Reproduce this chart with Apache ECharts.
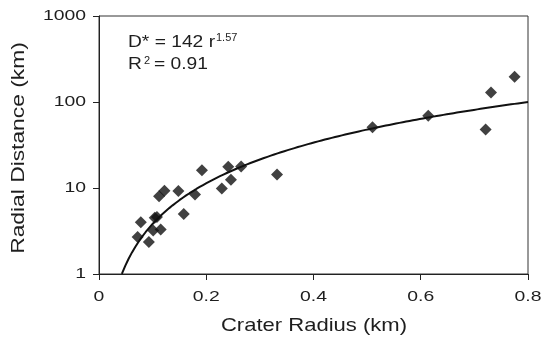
<!DOCTYPE html>
<html>
<head>
<meta charset="utf-8">
<script src="https://cdn.jsdelivr.net/npm/echarts@6/dist/echarts.min.js"></script>
<style>
  html, body { margin: 0; padding: 0; background: #fff; }
  #chart { width: 541px; height: 342px; }
</style>
</head>
<body>
<div id="chart"></div>
<script>
// crater radius (km) and radial distance (km)
var craterRadius = [0.072, 0.078, 0.093, 0.101, 0.104, 0.108, 0.115, 0.112, 0.122,
                    0.148, 0.158, 0.179, 0.192, 0.229, 0.241, 0.246, 0.265, 0.332,
                    0.510, 0.614, 0.721, 0.731, 0.775];
var radialDistance = [2.7, 4.0, 2.35, 3.2, 4.5, 4.6, 3.3, 8.0, 9.3,
                      9.2, 5.0, 8.4, 16.1, 9.9, 17.7, 12.5, 17.8, 14.4,
                      51, 69, 48, 129, 196];

// power-law fit printed on the chart: D* = 142 r^1.57
var fitCoef = 142;
var fitExp = 1.57;
var fitRange = [0.0426, 0.8];

var xTicks = ['0', '0.2', '0.4', '0.6', '0.8'];
var yTicks = ['1', '10', '100', '1000'];

var FONT = "'Liberation Sans', Arial, sans-serif";
var INK = '#111';
var TXT = '#1e1e1e';

var points = [];
for (var i = 0; i < craterRadius.length; i++) {
    points.push([craterRadius[i], radialDistance[i]]);
}

var fitLine = [];
var steps = 120;
for (var k = 0; k <= steps; k++) {
    var r = fitRange[0] + (fitRange[1] - fitRange[0]) * k / steps;
    fitLine.push([r, fitCoef * Math.pow(r, fitExp)]);
}

var myChart = echarts.init(document.getElementById('chart'));

var option = {
    animation: false,
    backgroundColor: '#fff',
    grid: {
        left: 99,
        right: 13,
        top: 16,
        bottom: 68,
        show: true,
        borderColor: '#333',
        borderWidth: 1
    },
    xAxis: {
        type: 'value',
        min: 0,
        max: 0.8,
        interval: 0.2,
        axisLine: { show: true, onZero: false, lineStyle: { color: '#222', width: 1 } },
        axisTick: { show: true, inside: false, length: 6, lineStyle: { color: '#222' } },
        axisLabel: { show: false },
        splitLine: { show: false }
    },
    yAxis: {
        type: 'log',
        logBase: 10,
        min: 1,
        max: 1000,
        axisLine: { show: true, lineStyle: { color: '#222', width: 1 } },
        axisTick: { show: true, inside: false, length: 6, lineStyle: { color: '#222' } },
        axisLabel: { show: false },
        splitLine: { show: false },
        minorTick: { show: false }
    },
    series: [
        {
            name: 'fit',
            type: 'line',
            data: fitLine,
            showSymbol: false,
            smooth: false,
            lineStyle: { color: INK, width: 2 },
            z: 2
        },
        {
            name: 'craters',
            type: 'scatter',
            data: points,
            symbol: 'diamond',
            symbolSize: 12,
            itemStyle: { color: INK },
            z: 3
        }
    ]
};

myChart.setOption(option);

// the labels in the figure are drawn horizontally stretched, so they are
// placed as graphic text at the positions the axes give
var graphics = [];
for (var a = 0; a < xTicks.length; a++) {
    var px = myChart.convertToPixel({ gridIndex: 0 }, [parseFloat(xTicks[a]), 1]);
    graphics.push({
        type: 'text', x: px[0], y: px[1] + 23, scaleX: 1.25,
        style: { text: xTicks[a], font: '15.5px ' + FONT, fill: TXT, align: 'center', verticalAlign: 'middle' }
    });
}
for (var b = 0; b < yTicks.length; b++) {
    var py = myChart.convertToPixel({ gridIndex: 0 }, [0, parseFloat(yTicks[b])]);
    graphics.push({
        type: 'text', x: py[0] - 13, y: py[1], scaleX: 1.25,
        style: { text: yTicks[b], font: '15.5px ' + FONT, fill: TXT, align: 'right', verticalAlign: 'middle' }
    });
}

// axis titles
graphics.push({
    type: 'text', x: 314, y: 326, scaleX: 1.16,
    style: { text: 'Crater Radius (km)', font: '19px ' + FONT, fill: TXT, align: 'center', verticalAlign: 'middle' }
});
graphics.push({
    type: 'text', x: 18.5, y: 148, rotation: Math.PI / 2, scaleX: 1.2,
    style: { text: 'Radial Distance (km)', font: '19px ' + FONT, fill: TXT, align: 'center', verticalAlign: 'middle' }
});

// equation box
graphics.push({
    type: 'text', x: 128, y: 42, scaleX: 1.13,
    style: { text: 'D* = 142 r', font: '17px ' + FONT, fill: TXT, align: 'left', verticalAlign: 'middle' }
});
graphics.push({
    type: 'text', x: 216, y: 38.5, scaleX: 1.1,
    style: { text: '1.57', font: '10px ' + FONT, fill: TXT, align: 'left', verticalAlign: 'middle' }
});
graphics.push({
    type: 'text', x: 128, y: 64, scaleX: 1.13,
    style: { text: 'R', font: '17px ' + FONT, fill: TXT, align: 'left', verticalAlign: 'middle' }
});
graphics.push({
    type: 'text', x: 144, y: 61.5, scaleX: 1.1,
    style: { text: '2', font: '10px ' + FONT, fill: TXT, align: 'left', verticalAlign: 'middle' }
});
graphics.push({
    type: 'text', x: 154, y: 64, scaleX: 1.13,
    style: { text: '= 0.91', font: '17px ' + FONT, fill: TXT, align: 'left', verticalAlign: 'middle' }
});

myChart.setOption({ graphic: graphics });
</script>
</body>
</html>
